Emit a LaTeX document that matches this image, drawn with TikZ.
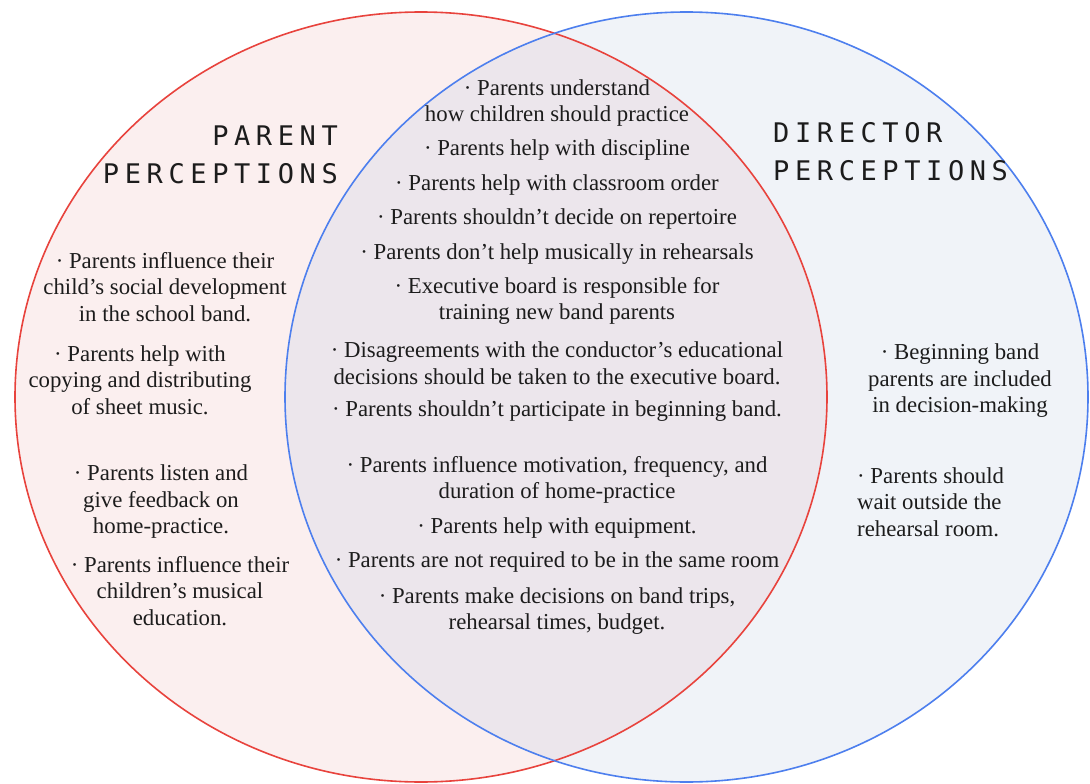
\documentclass[tikz,border=0pt]{standalone}
\usepackage{fontspec}
\setmainfont{Liberation Serif}
\newfontfamily\headfont{DejaVu Sans Mono}
\definecolor{pinkfill}{HTML}{FBEFEF}
\definecolor{bluefill}{HTML}{F0F3F8}
\definecolor{mixfill}{HTML}{ECE6EC}
\definecolor{redline}{HTML}{E8433D}
\definecolor{blueline}{HTML}{4D7FEE}
\definecolor{textcol}{HTML}{1C1C1C}
\makeatletter
\def\trk#1{\trk@i#1\@nil}
\def\trk@i#1{\ifx#1\@nil\else#1\kern5.6pt\expandafter\trk@i\fi}
\makeatother
\tikzset{
  txt/.style={font=\fontsize{22.8}{26.5}\selectfont, align=center, inner sep=0pt, text=textcol},
  head/.style={font=\headfont\fontsize{27}{30}\selectfont, inner sep=0pt, text=textcol},
  redcirc/.style={draw=redline, line width=1.6pt},
  bluecirc/.style={draw=blueline, line width=1.6pt}
}
\begin{document}
\begin{tikzpicture}[x=1pt,y=-1pt]
\useasboundingbox (0,0) rectangle (1090,784);
\fill[white] (0,0) rectangle (1090,784);
\fill[pinkfill] (421,397) ellipse [x radius=406, y radius=385];
\fill[bluefill] (686.5,397) ellipse [x radius=401.5, y radius=385];
\begin{scope}
  \clip (421,397) ellipse [x radius=406, y radius=385];
  \fill[mixfill] (686.5,397) ellipse [x radius=401.5, y radius=385];
\end{scope}
\draw[redcirc] (421,397) ellipse [x radius=406, y radius=385];
\draw[bluecirc] (686.5,397) ellipse [x radius=401.5, y radius=385];

% headings
\node[head, anchor=base east] (ph1) at (343.6,145) {\trk{PARENT}};
\node[head, anchor=base east] (ph2) at (343.6,183) {\trk{PERCEPTIONS}};
\node[head, anchor=base west] (dh1) at (773,142) {\trk{DIRECTOR}};
\node[head, anchor=base west] (dh2) at (773,180) {\trk{PERCEPTIONS}};

% middle
\node[txt] (m1) at (557,103) {· Parents understand\\how children should practice};
\node[txt] (m2) at (557,150) {· Parents help with discipline};
\node[txt] (m3) at (557,185) {· Parents help with classroom order};
\node[txt] (m4) at (557,219) {· Parents shouldn’t decide on repertoire};
\node[txt] (m5) at (557,254) {· Parents don’t help musically in rehearsals};
\node[txt] (m6) at (557,301) {· Executive board is responsible for\\training new band parents};
\node[txt] (m7) at (557,363) {· Disagreements with the conductor’s educational\\decisions should be taken to the executive board.};
\node[txt] (m8) at (557,411) {· Parents shouldn’t participate in beginning band.};
\node[txt] (m9) at (557,480) {· Parents influence motivation, frequency, and\\duration of home-practice};
\node[txt] (m10) at (557,528) {· Parents help with equipment.};
\node[txt] (m11) at (557,562) {· Parents are not required to be in the same room};
\node[txt] (m12) at (557,611) {· Parents make decisions on band trips,\\rehearsal times, budget.};

% left
\node[txt] (l1) at (165,287) {· Parents influence their\\child’s social development\\in the school band.};
\node[txt] (l2) at (140,380) {· Parents help with\\copying and distributing\\of sheet music.};
\node[txt] (l3) at (161,502) {· Parents listen and\\give feedback on\\home-practice.};
\node[txt] (l4) at (180,591) {· Parents influence their\\children’s musical\\education.};

% right
\node[txt] (r1) at (960,381) {· Beginning band\\parents are included\\in decision-making};
\node[txt, align=left, anchor=west] (r2) at (857,502) {· Parents should\\wait outside the\\rehearsal room.};
\end{tikzpicture}
\end{document}
